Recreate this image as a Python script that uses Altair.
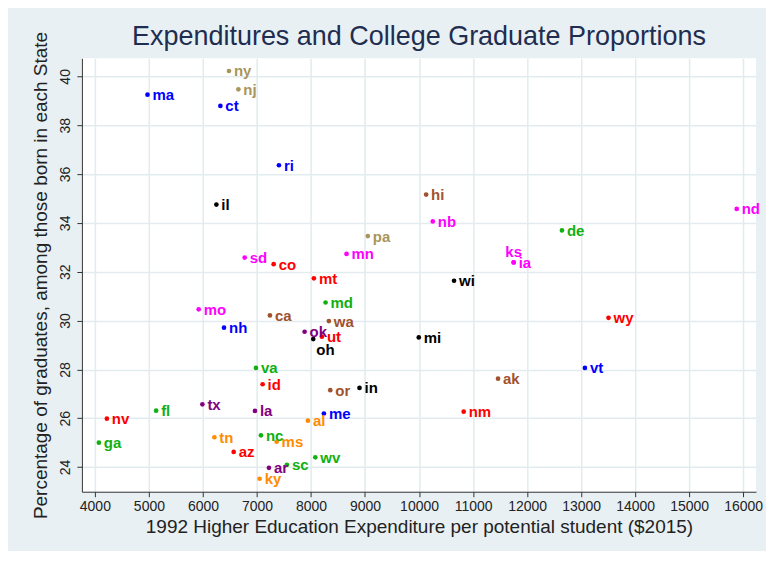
import altair as alt
import pandas as pd

# ---- data ----
states = ["ny", "nj", "ma", "ct", "ri", "il", "sd", "co", "mt", "md",
          "mo", "ca", "wa", "nh", "ok", "ut", "oh", "va", "id", "or",
          "tx", "fl", "la", "me", "nv", "al", "tn", "nc", "ms", "ga",
          "az", "wv", "sc", "ar", "ky", "mn", "ks", "ia", "wi", "mi",
          "ak", "in", "nm", "hi", "nb", "de", "nd", "wy", "vt", "pa"]
expenditure = [6482, 6656, 4974, 6323, 7407, 6249, 6773, 7309, 8054, 8270,
               5922, 7240, 8331, 6390, 7882, 8202, 8042, 6982, 7105, 8357,
               5990, 5134, 6963, 8239, 4222, 7943, 6212, 7074, 7364, 4074,
               6569, 8080, 7555, 7222, 7050, 8658, 11751, 11751, 10648, 9995,
               11462, 8898, 10826, 10131, 10254, 12645, 15880, 13507, 13070, 9052]
grad_pct = [40.22, 39.47, 39.25, 38.79, 36.36, 34.75, 32.58, 32.31, 31.73, 30.74,
            30.46, 30.21, 29.98, 29.71, 29.54, 29.34, 29.24, 28.06, 27.39, 27.15,
            26.57, 26.31, 26.30, 26.19, 25.98, 25.90, 25.22, 25.30, 25.04, 25.00,
            24.62, 24.40, 24.09, 23.97, 23.52, 32.73, 32.38, 32.38, 31.63, 29.31,
            27.62, 27.24, 26.27, 35.16, 34.06, 33.69, 34.57, 30.11, 28.06, 33.46]
group = ["khaki", "khaki", "blue", "blue", "blue", "black", "magenta", "red", "red", "green",
         "magenta", "brown", "brown", "blue", "purple", "red", "black", "green", "red", "brown",
         "purple", "green", "purple", "blue", "red", "orange", "orange", "green", "orange", "green",
         "red", "green", "green", "purple", "orange", "magenta", "magenta", "magenta", "black", "black",
         "brown", "black", "red", "brown", "magenta", "green", "magenta", "red", "blue", "khaki"]
label_pos = ["right"] * 50
label_pos[states.index("ks")] = "above"
label_pos[states.index("oh")] = "below"

group_names = ["blue", "khaki", "black", "magenta", "red", "green", "brown", "purple", "orange"]
group_colors = ["#0000ff", "#a8955b", "#000000", "#ff00ff", "#ff0000", "#10b010", "#a0522d", "#800080", "#ff8c00"]

x_ticks = list(range(4000, 16001, 1000))
y_ticks = list(range(24, 41, 2))

df = pd.DataFrame({"state": states, "exp": expenditure, "pct": grad_pct,
                   "grp": group, "pos": label_pos})

FONT = "Liberation Sans"

x_enc = alt.X("exp:Q",
              scale=alt.Scale(domain=[3760, 16237], nice=False, zero=False),
              axis=alt.Axis(values=x_ticks, format="d",
                            title="1992 Higher Education Expenditure per potential student ($2015)"))
y_enc = alt.Y("pct:Q",
              scale=alt.Scale(domain=[22.99, 40.74], nice=False, zero=False),
              axis=alt.Axis(values=y_ticks, format="d", labelAngle=270,
                            labelAlign="center", labelBaseline="bottom",
                            title="Percentage of graduates, among those born in each State"))
color_enc = alt.Color("grp:N", scale=alt.Scale(domain=group_names, range=group_colors), legend=None)

base = alt.Chart(df).encode(x=x_enc, y=y_enc, color=color_enc)

points = base.mark_circle(size=22, opacity=1)

txt_right = base.mark_text(align="left", baseline="alphabetic", dx=5, dy=5.5,
                           fontSize=15, fontWeight="bold", font=FONT).encode(
    text="state:N").transform_filter(alt.datum.pos == "right")
txt_above = base.mark_text(align="center", baseline="alphabetic", dx=0, dy=-5,
                           fontSize=15, fontWeight="bold", font=FONT).encode(
    text="state:N").transform_filter(alt.datum.pos == "above")
txt_below = base.mark_text(align="left", baseline="alphabetic", dx=3, dy=16,
                           fontSize=15, fontWeight="bold", font=FONT).encode(
    text="state:N").transform_filter(alt.datum.pos == "below")

chart = alt.layer(points, txt_right, txt_above, txt_below).properties(
    width=675, height=434,
    autosize=alt.AutoSizeParams(type="none"),
    padding={"left": 74, "top": 50, "right": 10, "bottom": 59},
    background="#e8f0f3",
    title=alt.TitleParams("Expenditures and College Graduate Proportions",
                          fontSize=27, font=FONT, fontWeight="normal",
                          color="#1f2d50", anchor="middle", offset=-20),
).configure_view(
    fill="white", stroke=None
).configure_axis(
    grid=True, gridColor="#e2ebee", gridWidth=1.5,
    domainColor="#333333", domainWidth=1,
    tickColor="#333333", tickSize=5, tickWidth=1,
    labelFont=FONT, labelFontSize=14, labelColor="#222222",
    titleFont=FONT, titleFontSize=19, titleFontWeight="normal", titleColor="#222222",
).configure_axisX(
    labelPadding=3, titlePadding=4
).configure_axisY(
    labelPadding=4, titlePadding=8
)

chart.save("out.html", embed_options={"renderer": "svg", "actions": False})
